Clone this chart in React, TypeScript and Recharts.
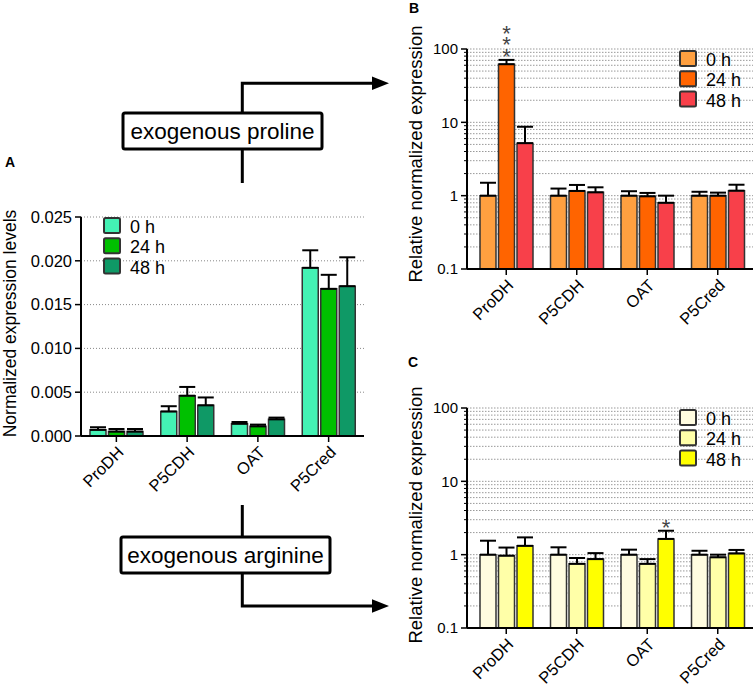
import React from 'react'
import { BarChart, Bar, XAxis, YAxis, CartesianGrid, ErrorBar, LabelList } from 'recharts'

const FONT = '"Liberation Sans", Arial, Helvetica, sans-serif'

const GENES = ['ProDH', 'P5CDH', 'OAT', 'P5Cred']
const TIMES = ['0 h', '24 h', '48 h']

// panel A: normalized expression levels (mean and upper error)
const A_0H = [0.0007, 0.0028, 0.0014, 0.0192]
const A_0H_ERR = [0.0003, 0.0006, 0.0002, 0.002]
const A_24H = [0.0005, 0.0046, 0.0011, 0.0168]
const A_24H_ERR = [0.0003, 0.001, 0.0002, 0.0016]
const A_48H = [0.0005, 0.0035, 0.0019, 0.0171]
const A_48H_ERR = [0.0003, 0.0009, 0.0002, 0.0033]
const A_TICKS = [0, 0.005, 0.01, 0.015, 0.02, 0.025]

// panel B: exogenous proline, relative expression
const B_0H = [1, 1, 1, 1]
const B_0H_ERR = [0.5, 0.25, 0.15, 0.13]
const B_24H = [62, 1.16, 0.98, 1.0]
const B_24H_ERR = [9, 0.24, 0.11, 0.1]
const B_48H = [5.2, 1.11, 0.8, 1.17]
const B_48H_ERR = [3.5, 0.19, 0.2, 0.24]
const B_SIG_24H = ['***', '', '', '']

// panel C: exogenous arginine, relative expression
const C_0H = [1, 1, 1, 1]
const C_0H_ERR = [0.55, 0.26, 0.17, 0.13]
const C_24H = [0.97, 0.75, 0.75, 0.92]
const C_24H_ERR = [0.28, 0.15, 0.12, 0.08]
const C_48H = [1.32, 0.87, 1.64, 1.04]
const C_48H_ERR = [0.4, 0.18, 0.48, 0.12]
const C_SIG_48H = ['', '', '*', '']

const LOG_TICKS = [
  0.1, 0.2, 0.3, 0.4, 0.5, 0.6, 0.7, 0.8, 0.9,
  1, 2, 3, 4, 5, 6, 7, 8, 9,
  10, 20, 30, 40, 50, 60, 70, 80, 90, 100,
]
const LOG_LABELS = [0.1, 1, 10, 100]

const GREENS = ['#44f2b4', '#00c000', '#0f9966']
const ORANGES = ['#ffa040', '#ff6400', '#f8404a']
const YELLOWS = ['#fffce0', '#ffffa8', '#ffff00']

const BAR_STROKE = '#333'
const TICK_SIZE = 6
const TICK_MARGIN = 3

function buildRows(v0, e0, v1, e1, v2, e2, s1?, s2?) {
  return GENES.map((gene, i) => ({
    gene,
    h0: v0[i],
    h0e: [0, e0[i]],
    h24: v1[i],
    h24e: [0, e1[i]],
    h48: v2[i],
    h48e: [0, e2[i]],
    sig24: s1 ? s1[i] : '',
    sig48: s2 ? s2[i] : '',
  }))
}

const rowsA = buildRows(A_0H, A_0H_ERR, A_24H, A_24H_ERR, A_48H, A_48H_ERR)
const rowsB = buildRows(B_0H, B_0H_ERR, B_24H, B_24H_ERR, B_48H, B_48H_ERR, B_SIG_24H)
const rowsC = buildRows(C_0H, C_0H_ERR, C_24H, C_24H_ERR, C_48H, C_48H_ERR, undefined, C_SIG_48H)

// stars above the error bar; pixel height of the error is taken from the bar's own geometry
function makeSig(values, errs, floor) {
  return (props) => {
    const { x, y, width, height, index, value } = props
    if (!value) return null
    const v = values[index]
    const top = v + errs[index]
    const perDecade = height / Math.log10(v / floor)
    const errY = y - Math.log10(top / v) * perDecade
    const cx = x + width / 2
    const stars = String(value).split('')
    const n = stars.length
    return (
      <text x={cx} y={errY + 4 - (n - 1) * 11.7} textAnchor="middle" fontSize={22} fill="#444" fontFamily={FONT}>
        {stars.map((s, k) => (
          <tspan key={k} x={cx} dy={k === 0 ? 0 : 11.7}>
            {s}
          </tspan>
        ))}
      </text>
    )
  }
}

function LogTick(props) {
  const { x, y, payload } = props
  const axisX = x + TICK_SIZE + TICK_MARGIN
  const major = LOG_LABELS.includes(payload.value)
  return (
    <g>
      <line x1={axisX - (major ? 6 : 3)} x2={axisX} y1={y} y2={y} stroke="#000" strokeWidth={major ? 1.5 : 1} />
      {major && (
        <text x={x} y={y} dy="0.36em" textAnchor="end" fontSize={15} fill="#000" fontFamily={FONT}>
          {payload.value}
        </text>
      )}
    </g>
  )
}

const xTick = { fontSize: 16.5, fill: '#000', fontFamily: FONT }

function series(colors, sig?) {
  return [
    <Bar key="h0" dataKey="h0" fill={colors[0]} stroke={BAR_STROKE} strokeWidth={1.5} isAnimationActive={false}>
      <ErrorBar dataKey="h0e" width={8} stroke="#000" strokeWidth={2} direction="y" />
    </Bar>,
    <Bar key="h24" dataKey="h24" fill={colors[1]} stroke={BAR_STROKE} strokeWidth={1.5} isAnimationActive={false}>
      <ErrorBar dataKey="h24e" width={8} stroke="#000" strokeWidth={2} direction="y" />
      {sig && sig.key === 'sig24' && <LabelList dataKey="sig24" content={sig.fn} />}
    </Bar>,
    <Bar key="h48" dataKey="h48" fill={colors[2]} stroke={BAR_STROKE} strokeWidth={1.5} isAnimationActive={false}>
      <ErrorBar dataKey="h48e" width={8} stroke="#000" strokeWidth={2} direction="y" />
      {sig && sig.key === 'sig48' && <LabelList dataKey="sig48" content={sig.fn} />}
    </Bar>,
  ]
}

function PanelA() {
  return (
    <div style={{ position: 'absolute', left: 0, top: 190 }}>
      <BarChart width={380} height={306} data={rowsA} margin={{ top: 27, right: 16, left: 26, bottom: 0 }} barSize={16} barGap={2.5}>
        <CartesianGrid vertical={false} strokeDasharray="1 2" stroke="#888" />
        <XAxis
          dataKey="gene"
          height={60}
          angle={-45}
          textAnchor="end"
          tick={xTick}
          tickSize={TICK_SIZE}
          tickMargin={TICK_MARGIN}
          interval={0}
          axisLine={{ stroke: '#000', strokeWidth: 2 }}
          tickLine={{ stroke: '#000', strokeWidth: 1.5 }}
        />
        <YAxis
          width={55}
          domain={[0, 0.025]}
          ticks={A_TICKS}
          interval={0}
          tickFormatter={(v) => v.toFixed(3)}
          tick={{ fontSize: 16.5, fill: '#000', fontFamily: FONT }}
          tickSize={TICK_SIZE}
          tickMargin={TICK_MARGIN}
          axisLine={{ stroke: '#000', strokeWidth: 2 }}
          tickLine={{ stroke: '#000', strokeWidth: 1.5 }}
        />
        {series(GREENS)}
      </BarChart>
    </div>
  )
}

function LogPanel({ top, marginTop, rows, colors, sig }) {
  return (
    <div style={{ position: 'absolute', left: 380, top }}>
      <BarChart width={375} height={marginTop + 220 + 60} data={rows} margin={{ top: marginTop, right: 2, left: 32, bottom: 0 }} barSize={16} barGap={2.5}>
        <CartesianGrid vertical={false} strokeDasharray="1.5 1.5" stroke="#999" />
        <XAxis
          dataKey="gene"
          height={60}
          angle={-45}
          textAnchor="end"
          tick={xTick}
          tickSize={TICK_SIZE}
          tickMargin={TICK_MARGIN}
          interval={0}
          padding={{ left: 4, right: 0 }}
          axisLine={{ stroke: '#000', strokeWidth: 2 }}
          tickLine={{ stroke: '#000', strokeWidth: 1.5 }}
        />
        <YAxis
          width={55}
          scale="log"
          domain={[0.1, 100]}
          allowDataOverflow
          ticks={LOG_TICKS}
          interval={0}
          tick={<LogTick />}
          tickSize={TICK_SIZE}
          tickMargin={TICK_MARGIN}
          tickLine={false}
          axisLine={{ stroke: '#000', strokeWidth: 2 }}
        />
        {series(colors, sig)}
      </BarChart>
    </div>
  )
}

function Legend({ x, y, colors }) {
  return (
    <g>
      {TIMES.map((t, i) => (
        <g key={t}>
          <rect x={x} y={y + i * 20.3} width={16} height={15} rx={1.5} fill={colors[i]} stroke="#333" strokeWidth={2} />
          <text x={x + 26} y={y + i * 20.3 + 15} fontSize={18} fill="#000" fontFamily={FONT}>
            {t}
          </text>
        </g>
      ))}
    </g>
  )
}

function Overlay() {
  const lw = 3
  return (
    <svg width={755} height={691} style={{ position: 'absolute', left: 0, top: 0, pointerEvents: 'none' }} fontFamily={FONT}>
      <text x={5} y={167} fontSize={14} fontWeight="bold">A</text>
      <text x={409} y={13} fontSize={14} fontWeight="bold">B</text>
      <text x={408} y={367} fontSize={14} fontWeight="bold">C</text>

      <text x={16} y={323.5} transform="rotate(-90 16 323.5)" textAnchor="middle" fontSize={17.5}>
        Normalized expression levels
      </text>
      <text x={422} y={154} transform="rotate(-90 422 154)" textAnchor="middle" fontSize={18.5}>
        Relative normalized expression
      </text>
      <text x={422} y={515} transform="rotate(-90 422 515)" textAnchor="middle" fontSize={18.5}>
        Relative normalized expression
      </text>

      <Legend x={104} y={218} colors={GREENS} />
      <Legend x={680} y={51} colors={ORANGES} />
      <Legend x={680} y={410} colors={YELLOWS} />

      {/* exogenous proline */}
      <polyline points="242.3,113 242.3,83.3 374,83.3" fill="none" stroke="#000" strokeWidth={lw} />
      <line x1={242.3} y1={149} x2={242.3} y2={183} stroke="#000" strokeWidth={lw} />
      <polygon points="372,76.5 389,83.3 372,90" fill="#000" />
      <rect x={123} y={113} width={199} height={36} rx={2} fill="#fff" stroke="#000" strokeWidth={lw} />
      <text x={222.5} y={139} textAnchor="middle" fontSize={22.5}>exogenous proline</text>

      {/* exogenous arginine */}
      <line x1={242.3} y1={505} x2={242.3} y2={537} stroke="#000" strokeWidth={lw} />
      <polyline points="242.3,573 242.3,606 372,606" fill="none" stroke="#000" strokeWidth={lw} />
      <polygon points="372,599.3 389,606 372,612.7" fill="#000" />
      <rect x={121} y={537} width={209} height={36} rx={2} fill="#fff" stroke="#000" strokeWidth={lw} />
      <text x={225.5} y={563} textAnchor="middle" fontSize={22.5}>exogenous arginine</text>
    </svg>
  )
}

export default function App() {
  return (
    <div style={{ position: 'absolute', left: 0, top: 0, width: 755, height: 691, background: '#fff', fontFamily: FONT }}>
      <PanelA />
      <LogPanel top={0} marginTop={49} rows={rowsB} colors={ORANGES} sig={{ key: 'sig24', fn: makeSig(B_24H, B_24H_ERR, 0.1) }} />
      <LogPanel top={360} marginTop={48} rows={rowsC} colors={YELLOWS} sig={{ key: 'sig48', fn: makeSig(C_48H, C_48H_ERR, 0.1) }} />
      <Overlay />
    </div>
  )
}
